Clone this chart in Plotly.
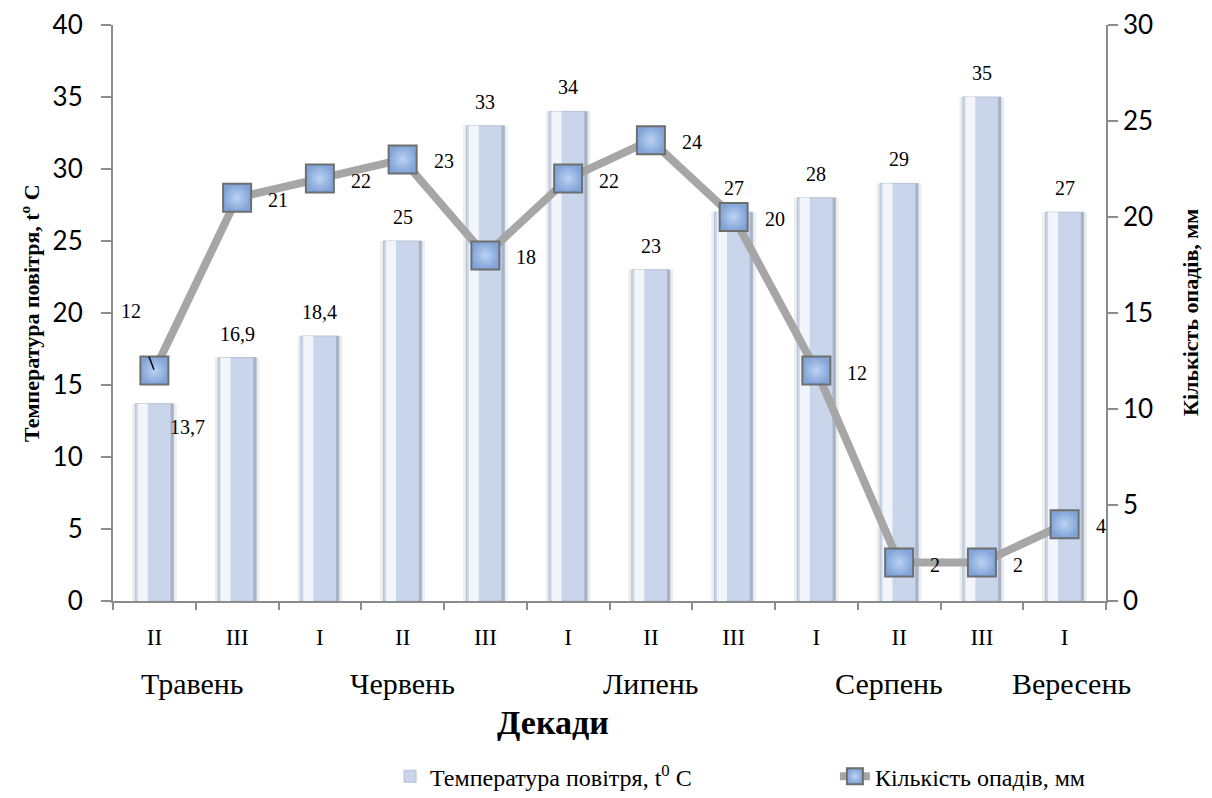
import plotly.graph_objects as go

# ---- data ----
decades = ["II", "III", "I", "II", "III", "I", "II", "III", "I", "II", "III", "I"]
months = ["Травень", "Червень", "Липень", "Серпень", "Вересень"]
temperature = [13.7, 16.9, 18.4, 25, 33, 34, 23, 27, 28, 29, 35, 27]
temp_labels = ["13,7", "16,9", "18,4", "25", "33", "34", "23", "27", "28", "29", "35", "27"]
precipitation = [12, 21, 22, 23, 18, 22, 24, 20, 12, 2, 2, 4]
precip_labels = ["12", "21", "22", "23", "18", "22", "24", "20", "12", "2", "2", "4"]

x = list(range(len(decades)))
month_pos = [0.46, 3.0, 6.0, 8.88, 11.08]

SERIF = "Liberation Serif, Times New Roman, serif"
SANS = "Lato, Open Sans, sans-serif"
AXC = "#8c8c8c"

fig = go.Figure()

# bar "glow"
fig.add_trace(go.Bar(x=x, y=temperature, width=0.54, marker=dict(color="#ededed", line=dict(width=0)),
                     showlegend=False, hoverinfo="skip"))
# bar body
fig.add_trace(go.Bar(x=x, y=temperature, width=0.46, name="Температура повітря, t<sup>0</sup> C",
                     legend="legend",
                     marker=dict(color="#c9d5ea", line=dict(color="#b6c1d4", width=1))))
# left highlight
fig.add_trace(go.Bar(x=x, y=temperature, width=0.12, offset=-0.20,
                     marker=dict(color="#f2f5fa", line=dict(width=0)), showlegend=False, hoverinfo="skip"))
# right shade
fig.add_trace(go.Bar(x=x, y=temperature, width=0.035, offset=0.195,
                     marker=dict(color="#a7b3c7", line=dict(width=0)), showlegend=False, hoverinfo="skip"))

# precipitation line
fig.add_trace(go.Scatter(x=x, y=precipitation, yaxis="y2", mode="lines+markers",
                         name="Кількість опадів, мм", legend="legend2",
                         line=dict(color="#a6a6a6", width=8),
                         marker=dict(symbol="square", size=28, color="#80a4d8",
                                     gradient=dict(type="radial", color="#bcd2f2"),
                                     line=dict(color="#6e6e6e", width=2))))

LBL = dict(family=SERIF, size=20, color="black")
annotations = []
# bar labels
for i, (v, t) in enumerate(zip(temperature, temp_labels)):
    if i == 0:
        annotations.append(dict(x=x[i], y=v, xref="x", yref="y", text=t, showarrow=False,
                                xshift=33, yshift=-23, font=LBL))
    else:
        annotations.append(dict(x=x[i], y=v, xref="x", yref="y", text=t, showarrow=False,
                                yshift=24, font=LBL))
# line labels
for i, (v, t) in enumerate(zip(precipitation, precip_labels)):
    if i == 0:
        annotations.append(dict(x=x[i], y=v, xref="x", yref="y2", text=t, showarrow=True,
                                arrowhead=0, arrowwidth=1.5, arrowcolor="black",
                                ax=-23, ay=-60, startstandoff=36, standoff=1, font=LBL))
    else:
        annotations.append(dict(x=x[i], y=v, xref="x", yref="y2", text=t, showarrow=False,
                                xanchor="left", xshift=29, yshift=-2, font=LBL))
# month labels
for m, p in zip(months, month_pos):
    annotations.append(dict(x=p, y=0, xref="x", yref="paper", text=m, showarrow=False,
                            yanchor="middle", yshift=-82,
                            font=dict(family=SERIF, size=30, color="black")))
# x title
annotations.append(dict(x=0.443, y=0, xref="paper", yref="paper", text="<b>Декади</b>", showarrow=False,
                        yanchor="middle", yshift=-121, font=dict(family=SERIF, size=34, color="black")))
# y titles
annotations.append(dict(x=0, y=0.5, xref="paper", yref="paper", text="<b>Температура повітря, t<sup>o</sup> C</b>",
                        showarrow=False, textangle=-90, xanchor="center", yanchor="middle", xshift=-83,
                        font=dict(family=SERIF, size=22, color="black")))
annotations.append(dict(x=1, y=0.5, xref="paper", yref="paper", text="<b>Кількість опадів, мм</b>",
                        showarrow=False, textangle=-90, xanchor="center", yanchor="middle", xshift=84,
                        font=dict(family=SERIF, size=22, color="black")))

bounds = [i - 0.5 for i in range(len(decades) + 1)]

# page body has an 8px offset: plot area lands at x 113..1106, y 25..601
fig.update_layout(
    width=1212, height=798,
    margin=dict(l=105, r=114, t=17, b=205, autoexpand=False),
    paper_bgcolor="white", plot_bgcolor="white",
    barmode="overlay",
    showlegend=True,
    legend=dict(orientation="h", x=0.279, xanchor="left", y=-0.305, yanchor="middle",
                font=dict(family=SERIF, size=24, color="black")),
    legend2=dict(orientation="h", x=0.727, xanchor="left", y=-0.305, yanchor="middle",
                 font=dict(family=SERIF, size=24, color="black")),
    xaxis=dict(range=[-0.5, len(decades) - 0.5], tickvals=x, ticktext=decades, automargin=False,
               ticks="", showline=True, linecolor=AXC, linewidth=1.5, showgrid=False, zeroline=False,
               ticklabelstandoff=15, tickfont=dict(family=SERIF, size=23, color="black"),
               minor=dict(tickvals=bounds, ticks="outside", ticklen=7, tickcolor=AXC, tickwidth=1.5)),
    xaxis2=dict(range=[-0.5, len(decades) - 0.5], overlaying="x", anchor="y", side="bottom",
                tickvals=bounds, ticks="inside", ticklen=6, tickcolor=AXC, tickwidth=1.5, automargin=False,
                showticklabels=False, showline=False, showgrid=False, zeroline=False),
    yaxis=dict(range=[0, 40], dtick=5, ticks="outside", ticklen=10, tickcolor=AXC, tickwidth=1.5,
               showline=True, linecolor=AXC, linewidth=1.5, showgrid=False, zeroline=False, automargin=False,
               ticksuffix="\u00a0\u00a0", tickfont=dict(family=SANS, size=26, color="black")),
    yaxis2=dict(range=[0, 30], dtick=5, overlaying="y", side="right", ticks="outside", ticklen=10,
                tickcolor=AXC, tickwidth=1.5, showline=True, linecolor=AXC, linewidth=1.5, automargin=False,
                showgrid=False, zeroline=False, tickfont=dict(family=SANS, size=26, color="black")),
    yaxis3=dict(range=[0, 40], dtick=5, overlaying="y", side="left", anchor="x", ticks="inside", ticklen=7,
                tickcolor=AXC, tickwidth=1.5, showticklabels=False, showline=False, showgrid=False,
                zeroline=False, automargin=False),
    yaxis4=dict(range=[0, 30], dtick=5, overlaying="y", side="right", anchor="x", ticks="inside", ticklen=7,
                tickcolor=AXC, tickwidth=1.5, showticklabels=False, showline=False, showgrid=False,
                zeroline=False, automargin=False),
    annotations=annotations,
)

fig.write_html("out.html")
